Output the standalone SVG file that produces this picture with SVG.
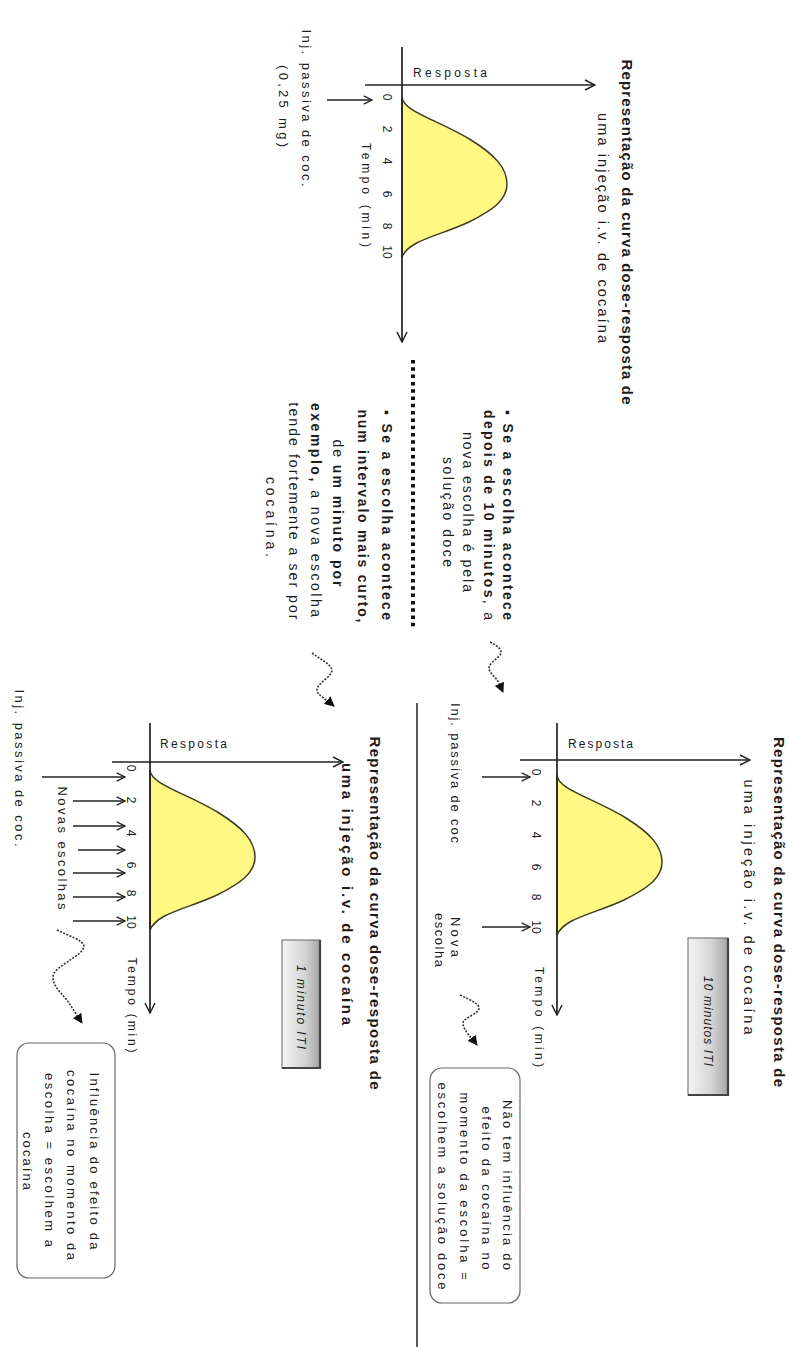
<svg xmlns="http://www.w3.org/2000/svg" width="789" height="1347" viewBox="0 0 789 1347">
<style>
.t{font-family:"Liberation Sans",Arial,sans-serif;fill:#1c1c1c}
.title{font-size:15px;font-weight:bold}
.sub{font-size:14.5px}
.tick{font-size:12px;text-anchor:middle}
.sm{font-size:12px}
.lbl{font-size:13px;text-anchor:middle}
.body{font-size:14px;text-anchor:middle}
.b{font-weight:bold}
.it{font-style:italic;font-size:12px;text-anchor:middle}
.axis{stroke:#222;stroke-width:1.7;fill:none;marker-end:url(#open)}
.inj{stroke:#222;stroke-width:1.5;fill:none;marker-end:url(#openS)}
.sq{stroke:#333;stroke-width:1.6;fill:none;stroke-dasharray:2 1.4;marker-end:url(#tri)}
.curve{fill:#FFF984;stroke:#3d3d20;stroke-width:1.5}
.note{fill:#fff;stroke:#666;stroke-width:1.2}
.btn{fill:url(#btng);stroke:#666;stroke-width:1}
.edge{stroke:#444;stroke-width:2.2;fill:none}
</style>
<defs>
<marker id="open" viewBox="0 0 12 12" refX="11" refY="6" markerWidth="12" markerHeight="12" orient="auto" markerUnits="userSpaceOnUse"><path d="M1,1 L11,6 L1,11" fill="none" stroke="#222" stroke-width="1.5"/></marker>
<marker id="openS" viewBox="0 0 12 12" refX="11" refY="6" markerWidth="10" markerHeight="10" orient="auto" markerUnits="userSpaceOnUse"><path d="M1,1 L11,6 L1,11" fill="none" stroke="#222" stroke-width="1.6"/></marker>
<marker id="tri" viewBox="0 0 10 10" refX="9" refY="5" markerWidth="10" markerHeight="10" orient="auto" markerUnits="userSpaceOnUse"><path d="M0,0 L10,5 L0,10 Z" fill="#111"/></marker>
<linearGradient id="btng" x1="0" y1="0" x2="0" y2="1"><stop offset="0" stop-color="#a5a5a5"/><stop offset="0.4" stop-color="#d4d4d4"/><stop offset="1" stop-color="#f4f4f4"/></linearGradient>
<path id="bell" class="curve" d="M0,0 C15,-1 23,-37 43,-69 C58,-93 71,-105 87,-105 C103,-105 113,-91 125,-67 C139,-37 143,-7 160,0 Z"/>
</defs>
<rect width="789" height="1347" fill="#fff"/>
<g transform="translate(789,0) rotate(90)">

<g id="graph-single">
<text class="t title" x="232" y="167" text-anchor="middle" textLength="345">Representação da curva dose-resposta de</text>
<text class="t sub" x="228" y="191" text-anchor="middle" textLength="230">uma injeção i.v. de cocaína</text>
<use href="#bell" transform="translate(97,387)"/>
<line class="axis" x1="85" y1="424" x2="85" y2="194"/>
<line class="axis" x1="47" y1="387" x2="342" y2="387"/>
<text class="t tick" x="97" y="406">0</text>
<text class="t tick" x="129" y="406">2</text>
<text class="t tick" x="161" y="406">4</text>
<text class="t tick" x="194" y="406">6</text>
<text class="t tick" x="226" y="406">8</text>
<text class="t tick" x="252" y="406">10</text>
<text class="t sm" x="195" y="427" text-anchor="middle" textLength="104">Tempo (min)</text>
<text class="t sm" transform="translate(77,376) rotate(-90)" textLength="74">Resposta</text>
<line class="inj" x1="100" y1="462" x2="100" y2="417"/>
<text class="t lbl" x="108" y="487" textLength="157">Inj. passiva de coc.</text>
<text class="t lbl" x="106" y="510" textLength="82">(0,25 mg)</text>
</g>

<g id="text-10min">
<text class="t body" x="515" y="286" textLength="210"><tspan class="b">▪ Se a escolha acontece</tspan></text>
<text class="t body" x="515" y="305" textLength="210"><tspan class="b">depois de 10 minutos</tspan>, a</text>
<text class="t body" x="512" y="326" textLength="160">nova escolha é pela</text>
<text class="t body" x="512" y="346" textLength="110">solução doce</text>
</g>

<g id="text-1min">
<text class="t body" x="515" y="407" textLength="210"><tspan class="b">▪ Se a escolha acontece</tspan></text>
<text class="t body" x="516" y="431" textLength="213"><tspan class="b">num intervalo mais curto,</tspan></text>
<text class="t body" x="513" y="456" textLength="147">de <tspan class="b">um minuto por</tspan></text>
<text class="t body" x="510" y="478" textLength="214"><tspan class="b">exemplo,</tspan> a nova escolha</text>
<text class="t body" x="511" y="500" textLength="217">tende fortemente a ser por</text>
<text class="t body" x="517" y="523" textLength="80">cocaína.</text>
</g>

<g id="separators">
<line x1="360" y1="376" x2="630" y2="376" stroke="#111" stroke-width="4" stroke-dasharray="3.5 3.8"/>
<line x1="703" y1="372" x2="1347" y2="372" stroke="#222" stroke-width="1.5"/>
</g>

<g id="graph-10min">
<text class="t title" x="912" y="15" text-anchor="middle" textLength="350">Representação da curva dose-resposta de</text>
<text class="t sub" x="907" y="45" text-anchor="middle" textLength="255">uma injeção i.v. de cocaína</text>
<use href="#bell" transform="translate(775,232)"/>
<line class="axis" x1="760" y1="269" x2="760" y2="39"/>
<line class="axis" x1="723" y1="232" x2="1015" y2="232"/>
<text class="t tick" x="772" y="257">0</text>
<text class="t tick" x="803" y="257">2</text>
<text class="t tick" x="835" y="257">4</text>
<text class="t tick" x="867" y="257">6</text>
<text class="t tick" x="897" y="257">8</text>
<text class="t tick" x="927" y="257">10</text>
<text class="t sm" x="1017" y="254" text-anchor="middle" textLength="100">Tempo (min)</text>
<text class="t sm" transform="translate(748,221) rotate(-90)" textLength="65">Resposta</text>
<line class="inj" x1="777" y1="307" x2="777" y2="259"/>
<text class="t lbl" x="773" y="338" textLength="140">Inj. passiva de coc</text>
<line class="inj" x1="927" y1="307" x2="927" y2="259"/>
<text class="t lbl" x="937" y="338" textLength="40">Nova</text>
<text class="t lbl" x="940" y="354" textLength="54">escolha</text>
</g>

<g id="iti-10min">
<rect class="btn" x="938" y="61" width="157" height="40"/>
<path class="edge" d="M938,61 H1095 V101"/>
<text class="t it" x="1021" y="85" textLength="90">10 minutos ITI</text>
</g>

<g id="note-doce">
<rect class="note" x="1068" y="269" width="235" height="90" rx="12"/>
<text class="t lbl" x="1185" y="286" textLength="170">Não tem influência do</text>
<text class="t lbl" x="1188" y="307" textLength="163">efeito da cocaína no</text>
<text class="t lbl" x="1186" y="329" textLength="187">momento da escolha =</text>
<text class="t lbl" x="1186" y="351" textLength="207">escolhem a solução doce</text>
</g>

<g id="graph-1min">
<text class="t title" x="913" y="419" text-anchor="middle" textLength="353">Representação da curva dose-resposta de</text>
<text class="t title" x="894" y="447" text-anchor="middle" textLength="262">uma injeção i.v. de cocaína</text>
<use href="#bell" transform="translate(770,639)"/>
<line class="axis" x1="762" y1="677" x2="762" y2="446"/>
<line class="axis" x1="723" y1="639" x2="1013" y2="639"/>
<text class="t tick" x="768" y="662">0</text>
<text class="t tick" x="800" y="662">2</text>
<text class="t tick" x="833" y="662">4</text>
<text class="t tick" x="865" y="662">6</text>
<text class="t tick" x="893" y="662">8</text>
<text class="t tick" x="922" y="662">10</text>
<text class="t sm" x="1005" y="661" text-anchor="middle" textLength="95">Tempo (min)</text>
<text class="t sm" transform="translate(748,629) rotate(-90)" textLength="67">Resposta</text>
<line class="inj" x1="777" y1="747" x2="777" y2="664"/>
<line class="inj" x1="801" y1="716" x2="801" y2="664"/>
<line class="inj" x1="826" y1="716" x2="826" y2="664"/>
<line class="inj" x1="850" y1="711" x2="850" y2="664"/>
<line class="inj" x1="873" y1="716" x2="873" y2="664"/>
<line class="inj" x1="897" y1="716" x2="897" y2="664"/>
<line class="inj" x1="921" y1="716" x2="921" y2="664"/>
<text class="t lbl" x="848" y="731" textLength="123">Novas escolhas</text>
<text class="t lbl" x="768" y="774" textLength="157">Inj. passiva de coc.</text>
</g>

<g id="iti-1min">
<rect class="btn" x="940" y="469" width="128" height="38"/>
<path class="edge" d="M940,469 H1068 V507"/>
<text class="t it" x="1007" y="492" textLength="84">1 minuto ITI</text>
</g>

<g id="note-cocaina">
<rect class="note" x="1043" y="674" width="235" height="98" rx="12"/>
<text class="t lbl" x="1161" y="699" textLength="177">Influência do efeito da</text>
<text class="t lbl" x="1165" y="722" textLength="190">cocaína no momento da</text>
<text class="t lbl" x="1160" y="744" textLength="174">escolha = escolhem a</text>
<text class="t lbl" x="1161" y="766" textLength="58">cocaína</text>
</g>

<g id="connectors">
<path class="sq" d="M642,299 C646,290 651,286 655,289 C660,293 664,301 669,300 C674,299 677,293 683,290 L692,286"/>
<path class="sq" d="M653,477 C660,468 664,458 670,457 C677,457 683,472 690,472 C695,472 700,462 706,455"/>
<path class="sq" d="M995,329 C1000,318 1004,310 1008,310 C1014,310 1018,326 1023,326 C1030,326 1037,318 1045,312"/>
<path class="sq" d="M930,732 C936,720 940,706 946,705 C956,705 966,736 977,736 C988,736 995,725 1003,720 L1023,707"/>
</g>

</g>
</svg>
